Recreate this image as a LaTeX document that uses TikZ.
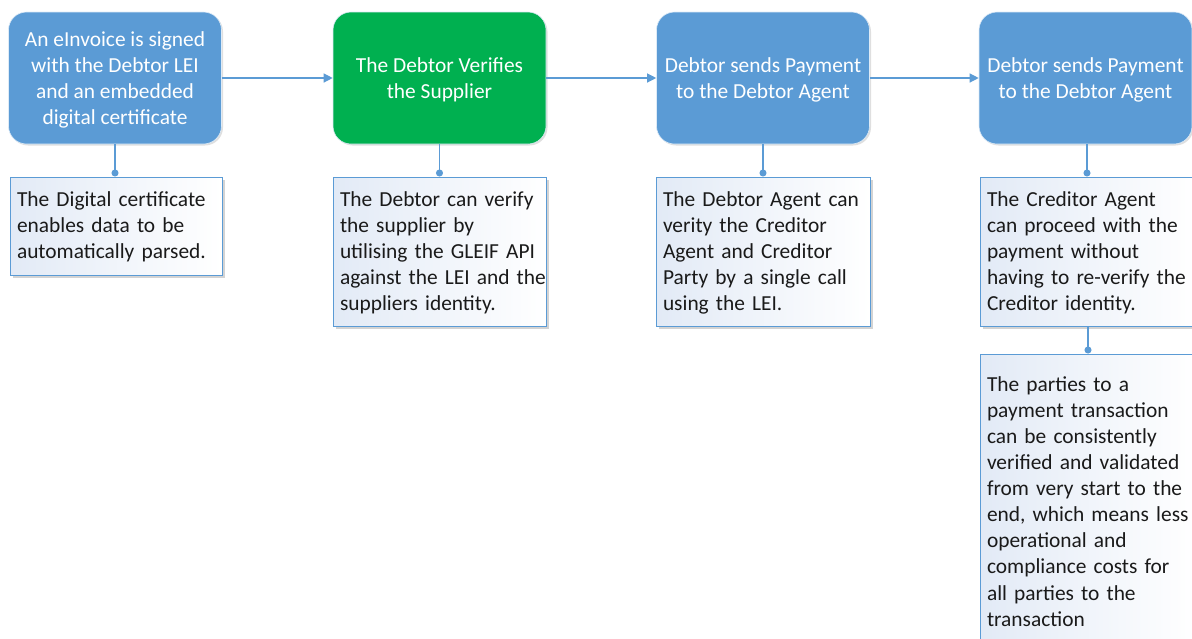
\documentclass[tikz,border=0pt]{standalone}
\usepackage{fontspec}
\setmainfont{Carlito}
\usetikzlibrary{arrows.meta,shadows}
\definecolor{obl}{HTML}{5B9BD5}
\definecolor{ogr}{HTML}{00B050}
\definecolor{tbl}{HTML}{E2EAF6}
\definecolor{txt}{HTML}{1A1A1A}
\newcommand{\lines}[1]{\raisebox{-1.5pt}[\height][\depth]{\begin{tabular}{@{}l@{}}#1\end{tabular}}}
\newcommand{\clines}[1]{\raisebox{-2.5pt}[\height][\depth]{\begin{tabular}{@{}c@{}}#1\end{tabular}}}
\begin{document}
\begin{tikzpicture}[x=1pt,y=-1pt,
  font=\fontsize{21.4}{26.1}\selectfont,
  topbox/.style={rounded corners=18pt, draw=white!80!obl, line width=0.6pt,
    minimum width=213pt, minimum height=132pt, align=center,
    text=white, inner sep=0pt,
    drop shadow={shadow xshift=1.5pt, shadow yshift=-1.5pt, opacity=0.25}},
  notebox/.style={draw=obl, line width=1pt, left color=tbl, right color=white,
    text=txt, align=left, inner xsep=7pt, inner ysep=0pt, anchor=center,
    drop shadow={shadow xshift=2.5pt, shadow yshift=-2.5pt, opacity=0.35}},
  flow/.style={draw=obl, line width=1.2pt, -{Triangle[length=9pt,width=9pt]}},
  link/.style={draw=obl, line width=1.2pt, -{Circle[length=7pt]}}
]
\useasboundingbox (0,0) rectangle (1192,638);
\clip (0,0) rectangle (1192,638);

\node[topbox, fill=obl] (b1) at (115,78) {\clines{An eInvoice is signed\\with the Debtor LEI\\and an embedded\\digital certificate}};
\node[topbox, fill=ogr] (b2) at (439.5,78) {\clines{The Debtor Verifies\\the Supplier}};
\node[topbox, fill=obl] (b3) at (763,78) {\clines{Debtor sends Payment\\to the Debtor Agent}};
\node[topbox, fill=obl] (b4) at (1085.5,78) {\clines{Debtor sends Payment\\to the Debtor Agent}};

\node[notebox, minimum width=212pt, minimum height=98pt, text width=198pt] (t1) at (116,226)
  {\lines{The Digital certificate\\enables data to be\\automatically parsed.}};
\node[notebox, minimum width=213pt, minimum height=149pt, text width=199pt] (t2) at (439.5,251.5)
  {\lines{The Debtor can verify\\the supplier by\\utilising the GLEIF API\\against the LEI and the\\suppliers identity.}};
\node[notebox, minimum width=214pt, minimum height=149pt, text width=200pt] (t3) at (763,251.5)
  {\lines{The Debtor Agent can\\verity the Creditor\\Agent and Creditor\\Party by a single call\\using the LEI.}};
\node[notebox, minimum width=216pt, minimum height=149pt, text width=202pt] (t4) at (1088,251.5)
  {\lines{The Creditor Agent\\can proceed with the\\payment without\\having to re-verify the\\Creditor identity.}};
\node[notebox, minimum width=216pt, minimum height=296pt, text width=202pt] (t5) at (1088,502)
  {\lines{The parties to a\\payment transaction\\can be consistently\\verified and validated\\from very start to the\\end, which means less\\operational and\\compliance costs for\\all parties to the\\transaction}};

\draw[flow] (b1.east) -- (b2.west);
\draw[flow] (b2.east) -- (b3.west);
\draw[flow] (b3.east) -- (b4.west);

\draw[link] (b1.south) -- (b1.south |- t1.north);
\draw[link] (b2.south) -- (b2.south |- t2.north);
\draw[link] (b3.south) -- (b3.south |- t3.north);
\path (b4.south) ++(1.5,0) coordinate (c4);
\draw[link] (c4) -- (c4 |- t4.north);
\draw[link] (t4.south) -- (t5.north);
\end{tikzpicture}
\end{document}
